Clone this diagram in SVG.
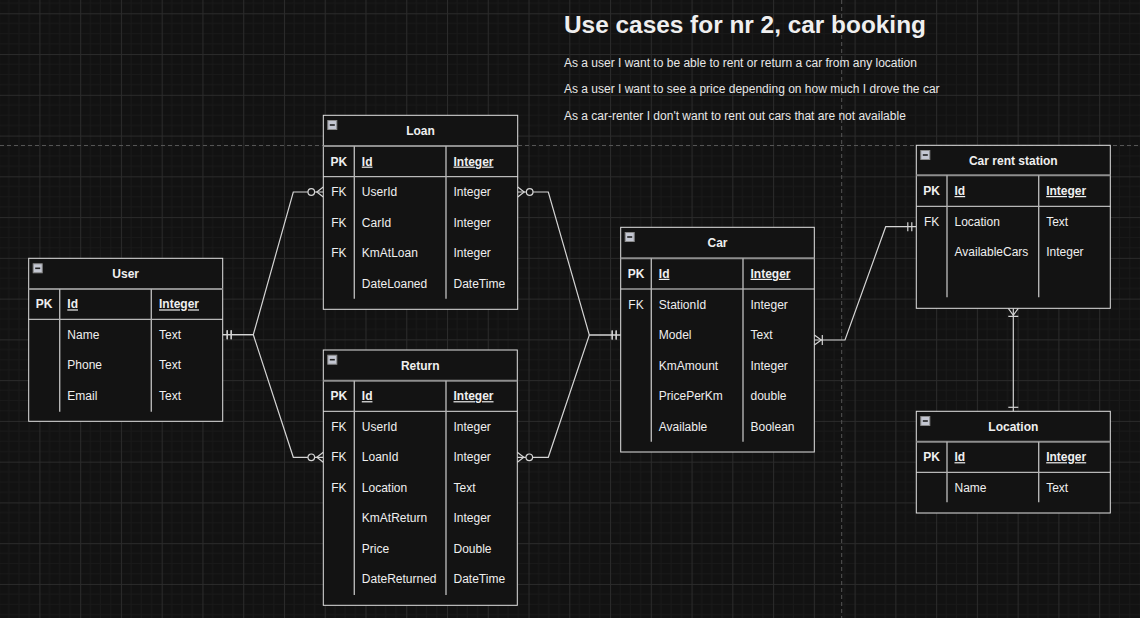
<svg xmlns="http://www.w3.org/2000/svg" xmlns:xlink="http://www.w3.org/1999/xlink" width="1140" height="618" viewBox="0 0 1140 618">
<style>
  text { font-family: "Liberation Sans", Arial, sans-serif; fill: #efefef; font-size: 12px; }
  .title { font-size: 24.4px; font-weight: bold; }
  .uc { fill: #e8e8e8; }
  .hd { font-weight: bold; text-anchor: middle; }
  .pk { font-weight: bold; }
  .pku { font-weight: bold; text-decoration: underline; }
  .mid { text-anchor: middle; }
  .box { fill: #131313; stroke: #e2e2e2; stroke-width: 1; }
  .hline { stroke: #8e8e8e; stroke-width: 2; }
  .pline { stroke: #e2e2e2; stroke-width: 1; }
  .col { stroke: #b4b4b4; stroke-width: 1.4; }
  .edge { fill: none; stroke: #d4d4d4; stroke-width: 1.2; }
  .mk { fill: none; stroke: #d4d4d4; stroke-width: 1.2; }
  .dash { stroke: #555; stroke-width: 1; stroke-dasharray: 4 3; }
</style>
<defs>
  <pattern id="grid" patternUnits="userSpaceOnUse" x="39.4" y="13.3" width="40.76" height="40.76">
    <path d="M10.19,0V40.76M20.38,0V40.76M30.57,0V40.76M0,10.19H40.76M0,20.38H40.76M0,30.57H40.76" stroke="#191919" stroke-width="1" fill="none"/>
    <path d="M0.5,0V40.76M0,0.5H40.76" stroke="#2b2b2b" stroke-width="1" fill="none"/>
  </pattern>
  <g id="minus">
    <rect x="0.5" y="0.5" width="9" height="9" fill="#c4c7d2" stroke="#8a8a8a" stroke-width="1"/>
    <path d="M2.5,5H7.5" stroke="#222" stroke-width="1.6"/>
  </g>
  <marker id="mandOne" markerUnits="userSpaceOnUse" orient="auto-start-reverse" refX="0" refY="0" markerWidth="20" markerHeight="20" overflow="visible">
    <path class="mk" d="M-4.5,-4.5V4.5M-8.5,-4.5V4.5"/>
  </marker>
  <marker id="zeroMany" markerUnits="userSpaceOnUse" orient="auto-start-reverse" refX="0" refY="0" markerWidth="20" markerHeight="20" overflow="visible">
    <path class="mk" d="M0,-5L-6.5,0L0,5"/>
    <circle cx="-12" cy="0" r="3.3" fill="#131313" stroke="#d4d4d4" stroke-width="1.2"/>
  </marker>
  <marker id="oneMany" markerUnits="userSpaceOnUse" orient="auto-start-reverse" refX="0" refY="0" markerWidth="20" markerHeight="20" overflow="visible">
    <path class="mk" d="M0,-5L-7,0L0,5M-8,-5V5"/>
  </marker>
  <marker id="one" markerUnits="userSpaceOnUse" orient="auto-start-reverse" refX="0" refY="0" markerWidth="20" markerHeight="20" overflow="visible">
    <path class="mk" d="M-4,-5V5"/>
  </marker>
</defs>

<g id="background">
  <rect x="0" y="0" width="1140" height="618" fill="#121212"/>
  <rect x="0" y="0" width="1140" height="618" fill="url(#grid)"/>
  <line class="dash" x1="0" y1="145.5" x2="1140" y2="145.5"/>
  <line class="dash" x1="841.7" y1="0" x2="841.7" y2="618"/>
</g>

<g id="usecases">
  <text class="title" x="564" y="33">Use cases for nr 2, car booking</text>
  <text class="uc" x="564" y="67">As a user I want to be able to rent or return a car from any location</text>
  <text class="uc" x="564" y="93">As a user I want to see a price depending on how much I drove the car</text>
  <text class="uc" x="564" y="120">As a car-renter I don't want to rent out cars that are not available</text>
</g>

<g id="connectors">
  <path class="edge" d="M222.7,334.7H253.3L293.3,192H323.3" marker-start="url(#mandOne)" marker-end="url(#zeroMany)"/>
  <path class="edge" d="M222.7,334.7H253.3L293.3,457.3H323.3" marker-start="url(#mandOne)" marker-end="url(#zeroMany)"/>
  <path class="edge" d="M517.7,192H548.3L589.3,335H620.7" marker-start="url(#zeroMany)" marker-end="url(#mandOne)"/>
  <path class="edge" d="M517.3,457.3H548.3L589.3,335H620.7" marker-start="url(#zeroMany)" marker-end="url(#mandOne)"/>
  <path class="edge" d="M814.3,340H845L885.7,226.7H916.3" marker-start="url(#oneMany)" marker-end="url(#mandOne)"/>
  <path class="edge" d="M1013.3,308.3V411.3" marker-start="url(#oneMany)" marker-end="url(#one)"/>
</g>

<g id="User">
  <rect class="box" x="28.7" y="258.3" width="194" height="163"/>
  <use xlink:href="#minus" x="32.7" y="263.3"/>
  <text class="hd" x="125.7" y="278">User</text>
  <line class="hline" x1="28.7" y1="289" x2="222.7" y2="289"/>
  <line class="pline" x1="28.7" y1="319.3" x2="222.7" y2="319.3"/>
  <line class="col" x1="59.7" y1="289" x2="59.7" y2="411.7"/>
  <line class="col" x1="151.3" y1="289" x2="151.3" y2="411.7"/>
  <text class="pk mid" x="44.2" y="308.4">PK</text>
  <text class="pku" x="67.3" y="308.4">Id</text>
  <text class="pku" x="159" y="308.4">Integer</text>
  <text x="67.3" y="338.7">Name</text><text x="159" y="338.7">Text</text>
  <text x="67.3" y="369.2">Phone</text><text x="159" y="369.2">Text</text>
  <text x="67.3" y="399.7">Email</text><text x="159" y="399.7">Text</text>
</g>

<g id="Loan">
  <rect class="box" x="323.3" y="115.3" width="194.4" height="194"/>
  <use xlink:href="#minus" x="327.3" y="120"/>
  <text class="hd" x="420.5" y="135">Loan</text>
  <line class="hline" x1="323.3" y1="146" x2="517.7" y2="146"/>
  <line class="pline" x1="323.3" y1="176.7" x2="517.7" y2="176.7"/>
  <line class="col" x1="354.3" y1="146" x2="354.3" y2="298.7"/>
  <line class="col" x1="446" y1="146" x2="446" y2="298.7"/>
  <text class="pk mid" x="338.8" y="165.6">PK</text>
  <text class="pku" x="361.8" y="165.6">Id</text>
  <text class="pku" x="453.5" y="165.6">Integer</text>
  <text class="mid" x="338.8" y="196.2">FK</text><text x="361.8" y="196.2">UserId</text><text x="453.5" y="196.2">Integer</text>
  <text class="mid" x="338.8" y="226.7">FK</text><text x="361.8" y="226.7">CarId</text><text x="453.5" y="226.7">Integer</text>
  <text class="mid" x="338.8" y="257.2">FK</text><text x="361.8" y="257.2">KmAtLoan</text><text x="453.5" y="257.2">Integer</text>
  <text x="361.8" y="287.7">DateLoaned</text><text x="453.5" y="287.7">DateTime</text>
</g>

<g id="Return">
  <rect class="box" x="323.3" y="350" width="194" height="255.3"/>
  <use xlink:href="#minus" x="327.3" y="354.7"/>
  <text class="hd" x="420.3" y="369.5">Return</text>
  <line class="hline" x1="323.3" y1="380.7" x2="517.3" y2="380.7"/>
  <line class="pline" x1="323.3" y1="411.3" x2="517.3" y2="411.3"/>
  <line class="col" x1="354.3" y1="380.7" x2="354.3" y2="595"/>
  <line class="col" x1="446" y1="380.7" x2="446" y2="595"/>
  <text class="pk mid" x="338.8" y="400.2">PK</text>
  <text class="pku" x="361.8" y="400.2">Id</text>
  <text class="pku" x="453.5" y="400.2">Integer</text>
  <text class="mid" x="338.8" y="430.8">FK</text><text x="361.8" y="430.8">UserId</text><text x="453.5" y="430.8">Integer</text>
  <text class="mid" x="338.8" y="461.3">FK</text><text x="361.8" y="461.3">LoanId</text><text x="453.5" y="461.3">Integer</text>
  <text class="mid" x="338.8" y="491.8">FK</text><text x="361.8" y="491.8">Location</text><text x="453.5" y="491.8">Text</text>
  <text x="361.8" y="522.3">KmAtReturn</text><text x="453.5" y="522.3">Integer</text>
  <text x="361.8" y="552.8">Price</text><text x="453.5" y="552.8">Double</text>
  <text x="361.8" y="583.3">DateReturned</text><text x="453.5" y="583.3">DateTime</text>
</g>

<g id="Car">
  <rect class="box" x="620.7" y="227.3" width="193.6" height="224.7"/>
  <use xlink:href="#minus" x="624.7" y="232"/>
  <text class="hd" x="717.5" y="247">Car</text>
  <line class="hline" x1="620.7" y1="258.3" x2="814.3" y2="258.3"/>
  <line class="pline" x1="620.7" y1="289" x2="814.3" y2="289"/>
  <line class="col" x1="651.3" y1="258.3" x2="651.3" y2="441.7"/>
  <line class="col" x1="743" y1="258.3" x2="743" y2="441.7"/>
  <text class="pk mid" x="636" y="277.8">PK</text>
  <text class="pku" x="658.8" y="277.8">Id</text>
  <text class="pku" x="750.5" y="277.8">Integer</text>
  <text class="mid" x="636" y="308.7">FK</text><text x="658.8" y="308.7">StationId</text><text x="750.5" y="308.7">Integer</text>
  <text x="658.8" y="339.2">Model</text><text x="750.5" y="339.2">Text</text>
  <text x="658.8" y="369.7">KmAmount</text><text x="750.5" y="369.7">Integer</text>
  <text x="658.8" y="400.2">PricePerKm</text><text x="750.5" y="400.2">double</text>
  <text x="658.8" y="430.7">Available</text><text x="750.5" y="430.7">Boolean</text>
</g>

<g id="CarRentStation">
  <rect class="box" x="916.3" y="145.3" width="194" height="163"/>
  <use xlink:href="#minus" x="920.3" y="150"/>
  <text class="hd" x="1013.3" y="164.5">Car rent station</text>
  <line class="hline" x1="916.3" y1="175.3" x2="1110.3" y2="175.3"/>
  <line class="pline" x1="916.3" y1="206.3" x2="1110.3" y2="206.3"/>
  <line class="col" x1="947" y1="175.3" x2="947" y2="297.3"/>
  <line class="col" x1="1038.7" y1="175.3" x2="1038.7" y2="297.3"/>
  <text class="pk mid" x="931.6" y="195">PK</text>
  <text class="pku" x="954.5" y="195">Id</text>
  <text class="pku" x="1046.2" y="195">Integer</text>
  <text class="mid" x="931.6" y="225.5">FK</text><text x="954.5" y="225.5">Location</text><text x="1046.2" y="225.5">Text</text>
  <text x="954.5" y="256">AvailableCars</text><text x="1046.2" y="256">Integer</text>
</g>

<g id="Location">
  <rect class="box" x="916.3" y="411.3" width="194" height="101.7"/>
  <use xlink:href="#minus" x="920.3" y="416"/>
  <text class="hd" x="1013.3" y="430.7">Location</text>
  <line class="hline" x1="916.3" y1="441.7" x2="1110.3" y2="441.7"/>
  <line class="pline" x1="916.3" y1="472.3" x2="1110.3" y2="472.3"/>
  <line class="col" x1="947" y1="441.7" x2="947" y2="502.3"/>
  <line class="col" x1="1038.7" y1="441.7" x2="1038.7" y2="502.3"/>
  <text class="pk mid" x="931.6" y="461.2">PK</text>
  <text class="pku" x="954.5" y="461.2">Id</text>
  <text class="pku" x="1046.2" y="461.2">Integer</text>
  <text x="954.5" y="491.7">Name</text><text x="1046.2" y="491.7">Text</text>
</g>
</svg>
